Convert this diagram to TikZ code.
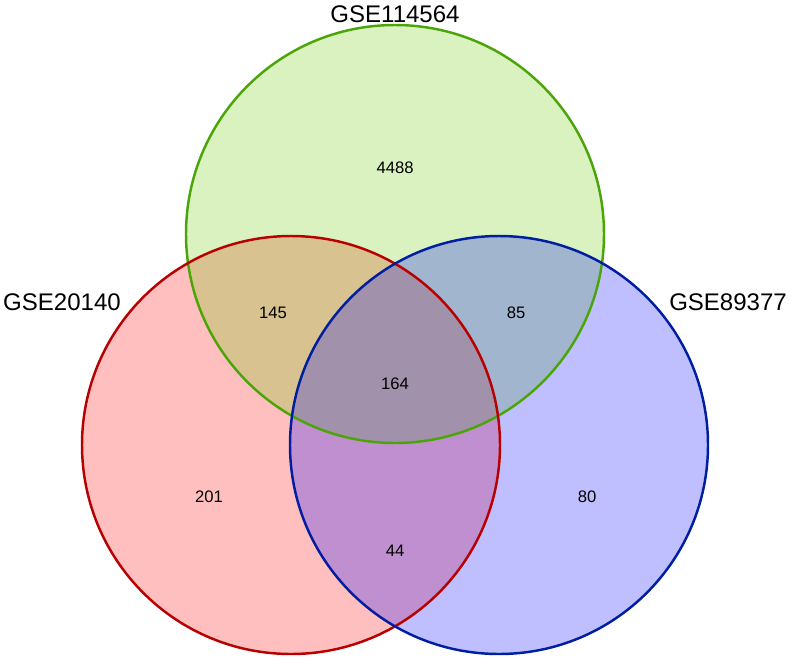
\documentclass[tikz,border=0pt]{standalone}
\usepackage{fontspec}
\setmainfont{Liberation Sans}
\definecolor{setgreen}{RGB}{102,205,0}
\definecolor{linegreen}{RGB}{76,165,8}
\definecolor{linered}{RGB}{185,0,0}
\definecolor{lineblue}{RGB}{0,30,160}
\tikzset{
  setfill/.style={circle,minimum size=12.54cm,inner sep=0pt,fill opacity=0.25},
  setname/.style={font=\fontsize{20.5}{24}\selectfont},
  count/.style={font=\fontsize{14.2}{17}\selectfont}
}

\begin{document}
\begin{tikzpicture}[x=0.03cm,y=-0.03cm]
      \useasboundingbox (0,0) rectangle (790,659);
      \node[setfill,fill=red] (a) at (291,445) {};
      \node[setfill,fill=setgreen] (b) at (395,234) {};
      \node[setfill,fill=blue] (c) at (499,445) {};

      \draw[line width=2.1pt,linegreen] (b.center) circle[radius=209];
      \draw[line width=2.1pt,linered] (a.center) circle[radius=209];
      \draw[line width=2.1pt,lineblue] (c.center) circle[radius=209];

      \node[setname] (na) at (62,302) {GSE20140};
      \node[setname] (nb) at (395,14) {GSE114564};
      \node[setname] (nc) at (728,302) {GSE89377};

      \node[count] (b1) at (395,168) {4488}; \node[count] (ab) at (273,313) {145};
      \node[count] (bc) at (516,313) {85}; \node[count] (abc) at (395,384) {164};
      \node[count] (a1) at (209,497) {201}; \node[count] (c1) at (587,497) {80};
      \node[count] (ac) at (395,551) {44};
    \end{tikzpicture}
\end{document}
